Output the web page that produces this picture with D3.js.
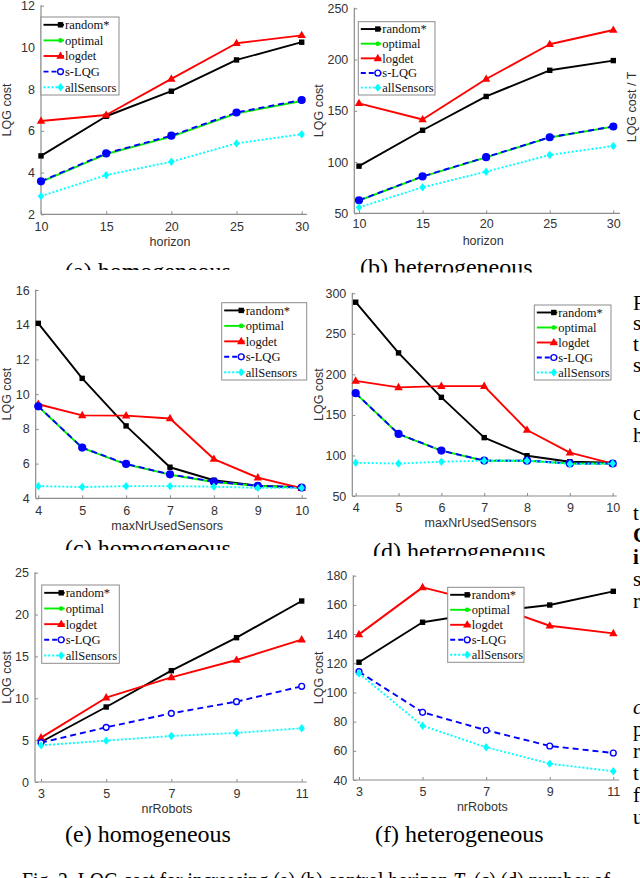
<!DOCTYPE html>
<html><head><meta charset="utf-8">
<script src="https://cdn.jsdelivr.net/npm/d3@7"></script>
<style>body{margin:0;background:#fff} svg{display:block}</style>
</head><body>
<svg id="chart" width="640" height="878"></svg>
<script>
// ---------------- data ----------------
const seriesNames = ["random*", "optimal", "logdet", "s-LQG", "allSensors"];

const horizon = [10, 15, 20, 25, 30];
const maxNrUsedSensors = [4, 5, 6, 7, 8, 9, 10];
const nrRobots = [3, 5, 7, 9, 11];

// (a) horizon, homogeneous
const randomA     = [4.8, 6.7, 7.9, 9.4, 10.25];
const optimalA    = [3.56, 4.89, 5.72, 6.84, 7.43];
const logdetA     = [6.47, 6.76, 8.49, 10.2, 10.58];
const sLqgA       = [3.58, 4.92, 5.77, 6.88, 7.48];
const allSensorsA = [2.87, 3.88, 4.52, 5.4, 5.84];
// (b) horizon, heterogeneous
const randomB     = [96, 131, 164, 189.5, 199];
const optimalB    = [62.5, 85.7, 104.6, 124, 134.5];
const logdetB     = [157.3, 141.5, 181, 214.9, 228.8];
const sLqgB       = [62.7, 86, 104.8, 124.2, 134.7];
const allSensorsB = [55.8, 75.4, 90.6, 106.9, 115.7];
// (c) maxNrUsedSensors, homogeneous
const randomC     = [14.08, 10.91, 8.17, 5.79, 5.04, 4.73, 4.62];
const optimalC    = [9.28, 6.9, 5.96, 5.36, 4.94, 4.71, 4.62];
const logdetC     = [9.42, 8.78, 8.76, 8.6, 6.26, 5.19, 4.58];
const sLqgC       = [9.3, 6.92, 5.98, 5.38, 4.96, 4.72, 4.62];
const allSensorsC = [4.7, 4.65, 4.7, 4.7, 4.67, 4.6, 4.6];
// (d) maxNrUsedSensors, heterogeneous
const randomD     = [289, 226.5, 171.7, 122, 99.7, 92.3, 91];
const optimalD    = [176.6, 126.4, 105.9, 93.5, 93.5, 90, 90];
const logdetD     = [192, 184, 185.5, 185.5, 131.4, 103.4, 90];
const sLqgD       = [176.8, 126.6, 106, 93.7, 93.6, 90.2, 90.1];
const allSensorsD = [91, 90, 92.3, 93.5, 93.5, 89.5, 90];
// (e) nrRobots, homogeneous (optimal not computed)
const randomE     = [4.78, 8.96, 13.3, 17.24, 21.62];
const optimalE    = [];
const logdetE     = [5.3, 10.07, 12.5, 14.57, 17];
const sLqgE       = [4.7, 6.53, 8.2, 9.6, 11.43];
const allSensorsE = [4.38, 4.94, 5.5, 5.86, 6.42];
// (f) nrRobots, heterogeneous (optimal not computed)
const randomF     = [120.7, 148.1, 155, 159.9, 169.3];
const optimalF    = [];
const logdetF     = [139.8, 172, 161, 145.7, 140.5];
const sLqgF       = [114.2, 86.4, 74.1, 63.3, 58.5];
const allSensorsF = [113, 77.2, 62.4, 51.2, 46];

// tick labels
const yTicksA = [2, 4, 6, 8, 10, 12];
const yTicksB = [50, 100, 150, 200, 250];
const yTicksC = [4, 6, 8, 10, 12, 14, 16];
const yTicksD = [50, 100, 150, 200, 250, 300];
const yTicksE = [0, 5, 10, 15, 20, 25];
const yTicksF = [40, 60, 80, 100, 120, 140, 160, 180];

const captions = ["(a) homogeneous", "(b) heterogeneous", "(c) homogeneous",
                  "(d) heterogeneous", "(e) homogeneous", "(f) heterogeneous"];
const xLabels = ["horizon", "horizon", "maxNrUsedSensors", "maxNrUsedSensors", "nrRobots", "nrRobots"];
const yLabel = "LQG cost";

// ---------------- styles ----------------
const colors = ["#000000", "#00ee00", "#ff0000", "#0000ff", "#00ffff"];
const dashes = [null, null, null, "6,4", "2,2"];
const markers = ["square", "dot", "triangle", "circle", "diamond"];

// ---------------- layout ----------------
const layout = [
  {left: 41,    x0: 41,    x1: 301.7, right: 307,   top: 5.7,   bottom: 214.3, lx: 7,   tickOff: 7.5, leg: [41, 17, 78, 78],     cap: [65, 279, 270], filledCircle: true},
  {left: 354.3, x0: 359,   x1: 613.3, right: 620,   top: 8.3,   bottom: 213.3, lx: 319, tickOff: 5.5, leg: [358.3, 21.7, 76.7, 73.3], cap: [360, 275, 272.5], filledCircle: true},
  {left: 35.7,  x0: 38.3,  x1: 301.7, right: 306.7, top: 290,   bottom: 498.3, lx: 7,   tickOff: 7.5, leg: [221.7, 302.7, 85, 77.3], cap: [65, 556, 550], filledCircle: true},
  {left: 352.3, x0: 355.7, x1: 612.7, right: 616.7, top: 293.3, bottom: 496,   lx: 319, tickOff: 7.5, leg: [534.3, 305, 76.7, 75],   cap: [373, 559, 556], filledCircle: true},
  {left: 35,    x0: 41,    x1: 301.7, right: 306.7, top: 572.7, bottom: 782,   lx: 7,   tickOff: 7.5, leg: [41.7, 585, 77.6, 78.3],  cap: [65, 842, 900], filledCircle: false},
  {left: 353.3, x0: 359,   x1: 613.3, right: 619.3, top: 575.7, bottom: 780,   lx: 319, tickOff: 7.5, leg: [447.7, 587.3, 76.3, 75], cap: [375, 842, 900], filledCircle: false}
];

const panels = [
  {x: horizon,          ys: [randomA, optimalA, logdetA, sLqgA, allSensorsA], yTicks: yTicksA},
  {x: horizon,          ys: [randomB, optimalB, logdetB, sLqgB, allSensorsB], yTicks: yTicksB},
  {x: maxNrUsedSensors, ys: [randomC, optimalC, logdetC, sLqgC, allSensorsC], yTicks: yTicksC},
  {x: maxNrUsedSensors, ys: [randomD, optimalD, logdetD, sLqgD, allSensorsD], yTicks: yTicksD},
  {x: nrRobots,         ys: [randomE, optimalE, logdetE, sLqgE, allSensorsE], yTicks: yTicksE},
  {x: nrRobots,         ys: [randomF, optimalF, logdetF, sLqgF, allSensorsF], yTicks: yTicksF}
];

// ---------------- drawing ----------------
const svg = d3.select("#chart");
svg.append("rect").attr("width", 640).attr("height", 878).attr("fill", "#fff");
const defs = svg.append("defs");

const SANS = "'Liberation Sans', Arial, Helvetica, sans-serif";
const SERIF = "'Liberation Serif', 'Times New Roman', serif";
const AXIS_COLOR = "#8c8c8c";
const TEXT_COLOR = "#333";

function drawMarker(g, type, cx, cy, color, filledCircle) {
  if (type === "square") {
    g.append("rect").attr("x", cx - 2.7).attr("y", cy - 2.7).attr("width", 5.4).attr("height", 5.4).attr("fill", color);
  } else if (type === "dot") {
    g.append("circle").attr("cx", cx).attr("cy", cy).attr("r", 2.3).attr("fill", color);
  } else if (type === "triangle") {
    g.append("path").attr("d", `M${cx},${cy - 4.6}L${cx + 4.2},${cy + 2.8}L${cx - 4.2},${cy + 2.8}Z`).attr("fill", color);
  } else if (type === "circle") {
    g.append("circle").attr("cx", cx).attr("cy", cy).attr("r", filledCircle ? 3.4 : 2.9)
      .attr("fill", filledCircle ? color : "#fff").attr("stroke", color).attr("stroke-width", 1.4);
  } else if (type === "diamond") {
    g.append("path").attr("d", `M${cx},${cy - 4.2}L${cx + 3.2},${cy}L${cx},${cy + 4.2}L${cx - 3.2},${cy}Z`).attr("fill", color);
  }
}

panels.forEach((p, pi) => {
  const L = layout[pi];
  const g = svg.append("g");
  const xs = d3.scaleLinear().domain([p.x[0], p.x[p.x.length - 1]]).range([L.x0, L.x1]);
  const ys = d3.scaleLinear().domain([p.yTicks[0], p.yTicks[p.yTicks.length - 1]]).range([L.bottom, L.top]);

  // axes
  const xAxis = d3.axisBottom(xs).tickValues(p.x).tickSizeInner(-3).tickSizeOuter(0).tickPadding(L.tickOff).tickFormat(d3.format("d"));
  const yAxis = d3.axisLeft(ys).tickValues(p.yTicks).tickSizeInner(-3).tickSizeOuter(0).tickPadding(6).tickFormat(d3.format("d"));
  const gx = g.append("g").attr("transform", `translate(0,${L.bottom})`).call(xAxis);
  const gy = g.append("g").attr("transform", `translate(${L.left},0)`).call(yAxis);
  [gx, gy].forEach(a => {
    a.select(".domain").remove();
    a.selectAll(".tick line").attr("stroke", AXIS_COLOR).attr("stroke-width", 1);
    a.selectAll(".tick text").attr("fill", TEXT_COLOR).style("font-family", SANS).style("font-size", "12.5px");
  });
  g.append("line").attr("x1", L.left).attr("x2", L.right).attr("y1", L.bottom).attr("y2", L.bottom)
    .attr("stroke", AXIS_COLOR).attr("stroke-width", 1.2);
  g.append("line").attr("x1", L.left).attr("x2", L.left).attr("y1", L.top - 0.5).attr("y2", L.bottom)
    .attr("stroke", AXIS_COLOR).attr("stroke-width", 1.2);

  // axis labels
  g.append("text").attr("x", (L.left + L.right) / 2 - 4).attr("y", L.bottom + 27).attr("dy", "0.35em")
    .attr("text-anchor", "middle").attr("fill", TEXT_COLOR).style("font-family", SANS).style("font-size", "12.5px")
    .text(xLabels[pi]);
  g.append("text").attr("transform", `translate(${L.lx},${(L.top + L.bottom) / 2}) rotate(-90)`).attr("dy", "0.35em")
    .attr("text-anchor", "middle").attr("fill", TEXT_COLOR).style("font-family", SANS).style("font-size", "12.5px")
    .text(yLabel);

  // series
  const line = d3.line().x(d => xs(d[0])).y(d => ys(d[1]));
  p.ys.forEach((vals, si) => {
    if (!vals.length) return;
    const pts = vals.map((v, i) => [p.x[i], v]);
    const path = g.append("path").datum(pts).attr("d", line).attr("fill", "none")
      .attr("stroke", colors[si]).attr("stroke-width", 1.9).attr("stroke-linejoin", "round");
    if (dashes[si]) path.attr("stroke-dasharray", dashes[si]);
    pts.forEach(d => drawMarker(g, markers[si], xs(d[0]), ys(d[1]), colors[si], L.filledCircle));
  });

  // legend
  const [lx, ly, lw, lh] = L.leg;
  const lg = svg.append("g");
  lg.append("rect").attr("x", lx).attr("y", ly).attr("width", lw).attr("height", lh)
    .attr("fill", "#fff").attr("stroke", "#8c8c8c").attr("stroke-width", 1);
  seriesNames.forEach((name, si) => {
    const yy = ly + lh * (si + 0.5) / 5;
    const ln = lg.append("line").attr("x1", lx + 2.5).attr("x2", lx + 23).attr("y1", yy).attr("y2", yy)
      .attr("stroke", colors[si]).attr("stroke-width", 1.9);
    if (dashes[si]) ln.attr("stroke-dasharray", si === 3 ? "5,3" : dashes[si]);
    drawMarker(lg, markers[si], lx + 19.5, yy, colors[si], false);
    lg.append("text").attr("x", lx + 24).attr("y", yy).attr("dy", "0.35em").attr("fill", "#111")
      .style("font-family", SERIF).style("font-size", "12.5px").text(name);
  });

  // caption (clipped where the source page is cut)
  const [cx, cy, clipY] = L.cap;
  const cid = "capclip" + pi;
  defs.append("clipPath").attr("id", cid).append("rect").attr("x", 0).attr("y", cy - 40).attr("width", 640).attr("height", clipY - (cy - 40));
  svg.append("text").attr("x", cx).attr("y", cy).attr("clip-path", `url(#${cid})`).attr("fill", "#000")
    .style("font-family", SERIF).style("font-size", "24px").text(captions[pi]);
});

// stray label of a neighbouring figure
svg.append("text").attr("transform", "translate(632,107) rotate(-90)").attr("dy", "0.35em")
  .attr("text-anchor", "middle").attr("fill", TEXT_COLOR).style("font-family", SANS).style("font-size", "12.5px")
  .text("LQG cost / T");

// figure caption (cut at the bottom of the page)
const fig = svg.append("text").attr("x", 22).attr("y", 888).attr("fill", "#000")
  .style("font-family", SERIF).style("font-size", "23px")
  .attr("textLength", 588).attr("lengthAdjust", "spacingAndGlyphs");
fig.append("tspan").text("Fig. 2.   LQG cost for increasing (a) (b) control horizon ");
fig.append("tspan").style("font-style", "italic").text("T");
fig.append("tspan").text(", (c) (d) number of");

// body text of the next column (only the first letters are visible)
const bodyLetters = [
  ["F", 310], ["s", 330], ["t", 351], ["s", 372], ["c", 420], ["h", 442],
  ["t", 520], ["C", 542, "bold"], ["i", 564, "bold"], ["s", 586], ["r", 608],
  ["c", 714, "italic"], ["p", 736], ["r", 758], ["t", 780], ["f", 802], ["u", 824]
];
bodyLetters.forEach(([ch, y, st]) => {
  const t = svg.append("text").attr("x", 633).attr("y", y).attr("fill", "#000")
    .style("font-family", SERIF).style("font-size", "21px").text(ch);
  if (st === "bold") t.style("font-weight", "bold");
  if (st === "italic") t.style("font-style", "italic");
});
</script>
</body></html>
